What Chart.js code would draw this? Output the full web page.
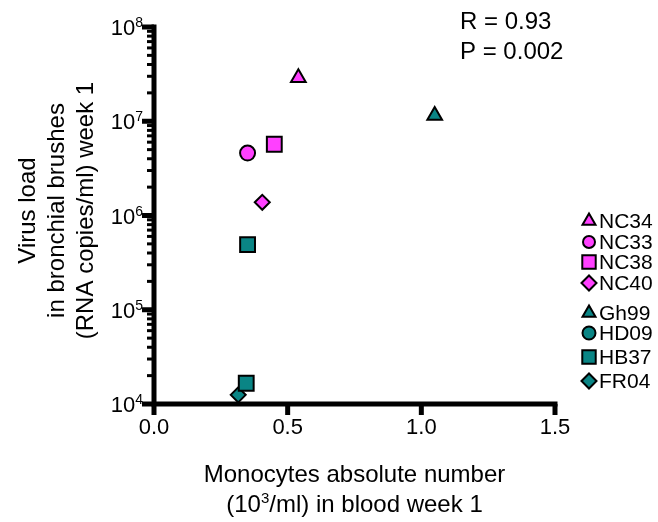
<!DOCTYPE html>
<html lang="en">
  <head>
    <meta charset="UTF-8" />
    <title>Virus load vs monocytes</title>
    <style>
      body {
        margin: 0;
        background: #fff;
      }
    </style>
    <script src="https://cdn.jsdelivr.net/npm/chart.js"></script>
  </head>
  <body>
    <canvas id="graph" width="658" height="522"></canvas>

    <script>
      // datos
      const seriesNames = ["NC34", "NC33", "NC38", "NC40", "Gh99", "HD09", "HB37", "FR04"];
      const seriesX = [[0.54], [0.35], [0.45], [0.405], [1.05], [], [0.35, 0.345], [0.315]];
      const seriesY = [[2.9e7], [4.6e6], [5.7e6], [1.38e6], [1.15e7], [], [4.9e5, 1.66e4], [1.25e4]];
      const xTicks = [0, 0.5, 1.0, 1.5];
      const xTickLabels = ["0.0", "0.5", "1.0", "1.5"];
      const yDecades = [4, 5, 6, 7, 8];
      const statLines = ["R = 0.93", "P = 0.002"];

      const MAGENTA = "#ff40ff";
      const TEAL = "#0a8585";
      const FONT = "'Liberation Sans', Arial, sans-serif";

      // estilo de cada serie (forma, color, tamaño)
      const styles = [
        { shape: "triangle", color: MAGENTA, r: 8.5, lr: 7.5 },
        { shape: "circle", color: MAGENTA, r: 7.5, lr: 6 },
        { shape: "rect", color: MAGENTA, r: 10.5, lr: 9.5 },
        { shape: "rectRot", color: MAGENTA, r: 7.5, lr: 7.5 },
        { shape: "triangle", color: TEAL, r: 8.5, lr: 7.5 },
        { shape: "circle", color: TEAL, r: 7.5, lr: 6.5 },
        { shape: "rect", color: TEAL, r: 10.5, lr: 9.5 },
        { shape: "rectRot", color: TEAL, r: 7.5, lr: 7.5 },
      ];

      const datasets = seriesNames.map((name, i) => ({
        label: name,
        data: seriesX[i].map((x, j) => ({ x: x, y: seriesY[i][j] })),
        pointStyle: styles[i].shape,
        pointRadius: styles[i].r,
        backgroundColor: styles[i].color,
        borderColor: "#000",
        pointBorderWidth: 2,
        clip: false,
      }));

      // dibuja un marcador (usa el helper de Chart.js si existe)
      function marker(ctx, shape, r, x, y, color) {
        ctx.save();
        ctx.fillStyle = color;
        ctx.strokeStyle = "#000";
        ctx.lineWidth = 2;
        if (Chart.helpers && Chart.helpers.drawPoint) {
          Chart.helpers.drawPoint(ctx, { pointStyle: shape, radius: r, borderWidth: 2, rotation: 0 }, x, y);
        } else {
          ctx.beginPath();
          ctx.arc(x, y, r, 0, Math.PI * 2);
          ctx.fill();
          ctx.stroke();
        }
        ctx.restore();
      }

      // texto con superindice: partes [texto, esSuper]
      function richText(ctx, parts, x, y, size, align) {
        const supSize = Math.round(size * 0.62);
        let total = 0;
        parts.forEach((p) => {
          ctx.font = (p[1] ? supSize : size) + "px " + FONT;
          total += ctx.measureText(p[0]).width;
        });
        let cx = align === "right" ? x - total : align === "center" ? x - total / 2 : x;
        parts.forEach((p) => {
          ctx.font = (p[1] ? supSize : size) + "px " + FONT;
          ctx.textAlign = "left";
          ctx.fillText(p[0], cx, p[1] ? y - size * 0.36 : y);
          cx += ctx.measureText(p[0]).width;
        });
      }

      const axesPlugin = {
        id: "axesPlugin",
        beforeDatasetsDraw(chart) {
          const ctx = chart.ctx;
          const xs = chart.scales.x;
          const ys = chart.scales.y;
          const a = chart.chartArea;
          ctx.save();
          ctx.strokeStyle = "#000";
          ctx.lineCap = "butt";

          // lineas de ejes
          ctx.lineWidth = 5;
          ctx.beginPath();
          ctx.moveTo(a.left, a.top - 2.5);
          ctx.lineTo(a.left, a.bottom + 2.5);
          ctx.moveTo(a.left - 2.5, a.bottom);
          ctx.lineTo(a.right + 2.5, a.bottom);
          ctx.stroke();

          // ticks eje x
          xTicks.forEach((v) => {
            const px = xs.getPixelForValue(v);
            ctx.beginPath();
            ctx.moveTo(px, a.bottom);
            ctx.lineTo(px, a.bottom + 11);
            ctx.stroke();
          });

          // ticks eje y (mayores y menores)
          yDecades.forEach((d, k) => {
            const py = ys.getPixelForValue(Math.pow(10, d));
            ctx.lineWidth = 5;
            ctx.beginPath();
            ctx.moveTo(a.left, py);
            ctx.lineTo(a.left - 12, py);
            ctx.stroke();
            if (k < yDecades.length - 1) {
              ctx.lineWidth = 3;
              for (let m = 2; m <= 9; m++) {
                const pm = ys.getPixelForValue(m * Math.pow(10, d));
                ctx.beginPath();
                ctx.moveTo(a.left, pm);
                ctx.lineTo(a.left - 7, pm);
                ctx.stroke();
              }
            }
          });

          // etiquetas
          ctx.fillStyle = "#000";
          ctx.textBaseline = "alphabetic";
          xTicks.forEach((v, i) => {
            ctx.font = "22px " + FONT;
            ctx.textAlign = "center";
            ctx.fillText(xTickLabels[i], xs.getPixelForValue(v), a.bottom + 30);
          });
          yDecades.forEach((d) => {
            const py = ys.getPixelForValue(Math.pow(10, d));
            richText(ctx, [["10", false], [String(d), true]], a.left - 11, py + 8, 22, "right");
          });

          // titulo eje x
          ctx.font = "24px " + FONT;
          ctx.textAlign = "center";
          const cx = (a.left + a.right) / 2;
          ctx.fillText("Monocytes absolute number", cx, a.bottom + 78);
          richText(ctx, [["(10", false], ["3", true], ["/ml) in blood week 1", false]], cx, a.bottom + 108, 24, "center");

          // titulo eje y (rotado)
          const cy = (a.top + a.bottom) / 2 - 5;
          ctx.save();
          ctx.translate(0, cy);
          ctx.rotate(-Math.PI / 2);
          ctx.font = "24px " + FONT;
          ctx.textAlign = "center";
          ["Virus load", "in bronchial brushes", "(RNA copies/ml) week 1"].forEach((t, i) => {
            ctx.fillText(t, 0, 35 + i * 29);
          });
          ctx.restore();
          ctx.restore();
        },
        afterDraw(chart) {
          const ctx = chart.ctx;
          ctx.save();
          ctx.fillStyle = "#000";
          ctx.textBaseline = "middle";
          ctx.textAlign = "left";
          ctx.font = "24px " + FONT;
          statLines.forEach((t, i) => ctx.fillText(t, 460, 22 + i * 30));

          // leyenda a la derecha, en dos grupos
          ctx.font = "21px " + FONT;
          const rowsY = [221, 242, 262, 283, 313, 333, 357, 381];
          seriesNames.forEach((name, i) => {
            const y = rowsY[i];
            marker(ctx, styles[i].shape, styles[i].lr, 589, y, styles[i].color);
            ctx.fillStyle = "#000";
            ctx.fillText(name, 599, y + 1);
          });
          ctx.restore();
        },
      };

      const chart = new Chart(document.getElementById("graph"), {
        type: "scatter",
        data: { datasets: datasets },
        options: {
          responsive: false,
          animation: false,
          layout: { padding: { left: 154, right: 103, top: 27, bottom: 118 } },
          scales: {
            x: { type: "linear", min: 0, max: 1.5, display: false },
            y: { type: "logarithmic", min: 1e4, max: 1e8, display: false },
          },
          plugins: {
            legend: { display: false },
            tooltip: { enabled: false },
          },
        },
        plugins: [axesPlugin],
      });
    </script>
  </body>
</html>
